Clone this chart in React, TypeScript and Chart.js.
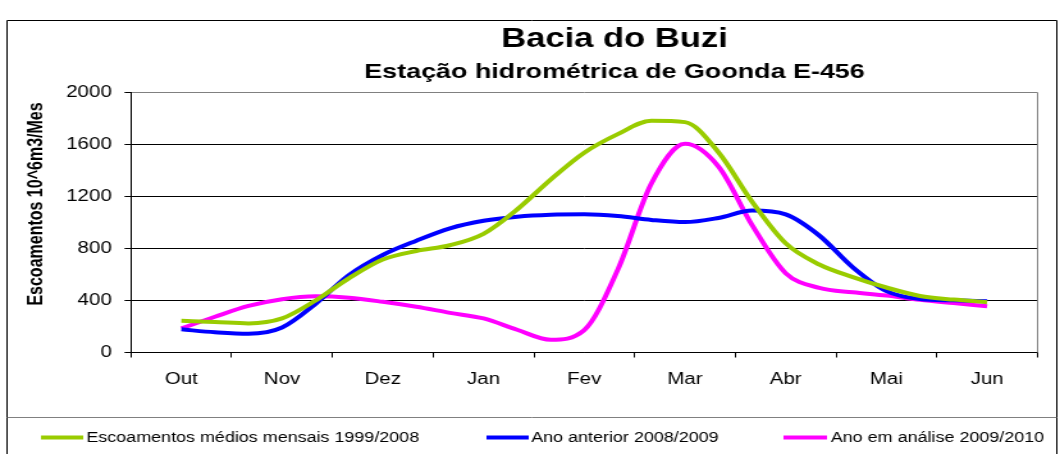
import React, { useEffect, useRef } from 'react';
import { Chart, registerables } from 'chart.js';

Chart.register(...registerables);

// ---- data -------------------------------------------------------------
const months = ['Out', 'Nov', 'Dez', 'Jan', 'Fev', 'Mar', 'Abr', 'Mai', 'Jun'];
const seriesLabels = [
  'Escoamentos médios mensais 1999/2008',
  'Ano anterior 2008/2009',
  'Ano em análise 2009/2010',
];
const seriesColors = ['#99CC00', '#0000FF', '#FF00FF'];
// values per decade (3 per month), from Out to Jun
const mediaValues = [
  244, 235, 224, 262, 400, 572, 715, 781, 825, 913, 1100, 1330, 1537,
  1680, 1782, 1772, 1540, 1160, 840, 677, 580, 500, 435, 407, 387,
];
const anteriorValues = [
  178, 156, 144, 192, 375, 596, 750, 860, 955, 1013, 1045, 1060, 1063,
  1050, 1020, 1003, 1035, 1092, 1062, 900, 655, 472, 411, 401, 395,
];
const analiseValues = [
  185, 275, 358, 410, 432, 421, 390, 352, 305, 262, 175, 98, 172,
  637, 1300, 1605, 1430, 980, 610, 497, 463, 438, 405, 380, 356,
];
const yMax = 2000;
const yStep = 400;
const titleText = 'Bacia do Buzi';
const subtitleText = 'Estação hidrométrica de Goonda E-456';
const yTitleText = 'Escoamentos 10^6m3/Mes';

// ---- layout ------------------------------------------------------------
const DISPLAY_W = 1060;
const H = 454;
const STRETCH = 1.28;
const W = Math.round(DISPLAY_W / STRETCH); // bitmap width, stretched horizontally
const FONT = '"Liberation Sans", Arial, sans-serif';
const PER_MONTH = 3;

const plotLeft = 102.3;
const plotRight = 810.4;
const plotTop = 92.5;
const plotBottom = 352.5;

const legendX = [
  { x0: 32, x1: 65, tx: 67.5 },
  { x0: 380, x1: 413, tx: 415 },
  { x0: 612, x1: 646, tx: 649 },
];

const decorPlugin = {
  id: 'decor',
  beforeDraw(chart: any) {
    const { ctx, width, height } = chart;
    ctx.save();
    ctx.fillStyle = '#ffffff';
    ctx.fillRect(0, 0, width, height);
    ctx.lineWidth = 1;
    ctx.strokeStyle = '#000000';
    ctx.beginPath();
    ctx.moveTo(5.5, height + 2);
    ctx.lineTo(5.5, 20.5);
    ctx.lineTo(825.5, 20.5);
    ctx.lineTo(825.5, height + 2);
    ctx.stroke();
    ctx.strokeStyle = '#808080';
    ctx.beginPath();
    ctx.moveTo(5.5, 417.5);
    ctx.lineTo(825.5, 417.5);
    ctx.stroke();
    ctx.restore();
  },
  afterDraw(chart: any) {
    const { ctx, chartArea } = chart;
    ctx.save();
    // plot area right border
    ctx.strokeStyle = '#808080';
    ctx.lineWidth = 1;
    ctx.beginPath();
    const rx = Math.round(chartArea.right) + 0.5;
    ctx.moveTo(rx, chartArea.top);
    ctx.lineTo(rx, chartArea.bottom);
    ctx.stroke();

    // titles
    ctx.fillStyle = '#000000';
    ctx.textAlign = 'center';
    ctx.textBaseline = 'alphabetic';
    ctx.font = `bold 27px ${FONT}`;
    ctx.fillText(titleText, 480, 46.5);
    ctx.font = `bold 21px ${FONT}`;
    ctx.fillText(subtitleText, 480, 78.3);

    // y title
    ctx.save();
    ctx.translate(29, 204);
    ctx.rotate(-Math.PI / 2);
    ctx.font = `bold 16px ${FONT}`;
    ctx.textBaseline = 'middle';
    ctx.fillText(yTitleText, 0, 0);
    ctx.restore();

    // legend
    ctx.textAlign = 'left';
    ctx.textBaseline = 'middle';
    ctx.font = `14px ${FONT}`;
    chart.data.datasets.forEach((ds: any, i: number) => {
      const p = legendX[i];
      ctx.strokeStyle = ds.borderColor;
      ctx.lineWidth = 4;
      ctx.beginPath();
      ctx.moveTo(p.x0, 437.5);
      ctx.lineTo(p.x1, 437.5);
      ctx.stroke();
      ctx.fillStyle = '#000000';
      ctx.fillText(ds.label, p.tx, 438.5);
    });
    ctx.restore();
  },
};

export default function App() {
  const canvasRef = useRef<HTMLCanvasElement | null>(null);

  useEffect(() => {
    const canvas = canvasRef.current;
    if (!canvas) return;
    const series = [mediaValues, anteriorValues, analiseValues];
    const chart = new Chart(canvas, {
      type: 'line',
      data: {
        datasets: series.map((vals, i) => ({
          label: seriesLabels[i],
          data: vals.map((v, j) => ({ x: j, y: v })),
          borderColor: seriesColors[i],
          backgroundColor: seriesColors[i],
          borderWidth: 4,
          pointRadius: 0,
          fill: false,
          cubicInterpolationMode: 'monotone' as const,
        })),
      },
      options: {
        responsive: false,
        animation: false,
        devicePixelRatio: 1,
        layout: {
          padding: { left: 0, top: plotTop, right: W - plotRight, bottom: 0 },
        },
        plugins: {
          legend: { display: false },
          title: { display: false },
          tooltip: { enabled: false },
        },
        scales: {
          x: {
            type: 'linear',
            min: -PER_MONTH / 2,
            max: months.length * PER_MONTH - PER_MONTH / 2,
            afterBuildTicks: (scale: any) => {
              const ticks: any[] = [];
              for (let i = 0; i <= months.length; i++) {
                ticks.push({ value: i * PER_MONTH - PER_MONTH / 2 });
                if (i < months.length) ticks.push({ value: i * PER_MONTH });
              }
              scale.ticks = ticks;
            },
            afterFit: (scale: any) => {
              scale.height = H - plotBottom;
            },
            ticks: {
              autoSkip: false,
              maxRotation: 0,
              padding: 12,
              color: '#000000',
              font: { family: FONT, size: 16 },
              callback: (value: any) => {
                const v = Number(value);
                if (v >= 0 && v % PER_MONTH === 0) return months[v / PER_MONTH];
                return '';
              },
            },
            grid: {
              drawOnChartArea: false,
              drawTicks: true,
              tickLength: 5,
              tickColor: (ctx: any) =>
                ctx.tick && Number(ctx.tick.value) % PER_MONTH === 0 ? 'rgba(0,0,0,0)' : '#000000',
            },
            border: { color: '#000000', width: 1 },
          },
          y: {
            type: 'linear',
            min: 0,
            max: yMax,
            afterFit: (scale: any) => {
              scale.width = plotLeft;
            },
            ticks: {
              stepSize: yStep,
              padding: 10,
              color: '#000000',
              font: { family: FONT, size: 16 },
              callback: (value: any) => String(value),
            },
            grid: {
              color: (ctx: any) => (ctx.tick && ctx.tick.value === yMax ? '#808080' : '#000000'),
              tickColor: '#000000',
              tickLength: 5,
              lineWidth: 1,
            },
            border: { color: '#000000', width: 1 },
          },
        },
      },
      plugins: [decorPlugin],
    } as any);
    return () => chart.destroy();
  }, []);

  return (
    <div style={{ position: 'fixed', left: 0, top: 0, width: DISPLAY_W, height: H, background: '#fff' }}>
      <canvas
        ref={canvasRef}
        width={W}
        height={H}
        style={{ width: `${DISPLAY_W}px`, height: `${H}px`, display: 'block' }}
      />
    </div>
  );
}
